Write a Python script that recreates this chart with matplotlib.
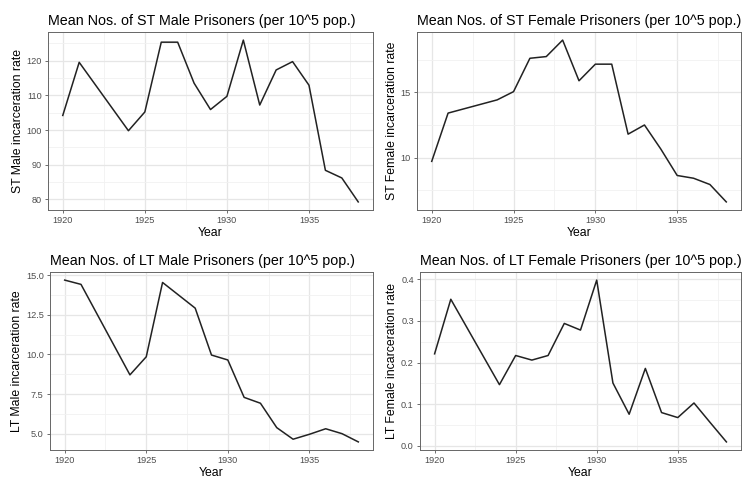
import matplotlib
matplotlib.use("Agg")
import matplotlib.pyplot as plt
from matplotlib.ticker import MultipleLocator, AutoMinorLocator

plt.rcParams['font.family'] = ['Liberation Sans', 'DejaVu Sans']

# ---------------------- data ----------------------
years = [1920, 1921, 1924, 1925, 1926, 1927, 1928, 1929, 1930, 1931,
         1932, 1933, 1934, 1935, 1936, 1937, 1938]

st_male = [104.2, 119.5, 99.8, 105.2, 125.3, 125.3, 113.5, 105.9, 109.7, 125.9,
           107.2, 117.3, 119.7, 112.9, 88.4, 86.2, 79.3]
st_female = [9.72, 13.41, 14.42, 15.05, 17.6, 17.73, 18.99, 15.88, 17.15, 17.15,
             11.8, 12.5, 10.66, 8.64, 8.43, 7.95, 6.62]
lt_male = [14.69, 14.42, 8.71, 9.85, 14.54, 13.73, 12.92, 9.96, 9.65, 7.29,
           6.92, 5.38, 4.65, 4.96, 5.31, 5.0, 4.48]
lt_female = [0.221, 0.352, 0.147, 0.217, 0.206, 0.217, 0.294, 0.278, 0.398, 0.151,
             0.076, 0.186, 0.080, 0.068, 0.103, 0.056, 0.0096]

panels = [
    ("Mean Nos. of ST Male Prisoners (per 10^5 pop.)", "ST Male incarceration rate",
     st_male, 10, "{:.0f}"),
    ("Mean Nos. of ST Female Prisoners (per 10^5 pop.)", "ST Female incarceration rate",
     st_female, 5, "{:.0f}"),
    ("Mean Nos. of LT Male Prisoners (per 10^5 pop.)", "LT Male incarceration rate",
     lt_male, 2.5, "{:.1f}"),
    ("Mean Nos. of LT Female Prisoners (per 10^5 pop.)", "LT Female incarceration rate",
     lt_female, 0.1, "{:.1f}"),
]

# panel boxes in pixels: left, top, right, bottom
W, H = 745, 480
boxes = [(48, 32, 373, 210), (417, 32, 741, 210),
         (50, 272, 373, 450), (420, 272, 741, 450)]


def draw_panel(fig, box, title, ylabel, values, step, fmt):
    l, t, r, b = box
    ax = fig.add_axes([l / W, 1 - b / H, (r - l) / W, (b - t) / H])
    ax.plot(years, values, color="#222222", linewidth=1.1, solid_joinstyle="round")

    # ggplot-style 5% expansion
    x0, x1 = min(years), max(years)
    dx = (x1 - x0) * 0.05
    ax.set_xlim(x0 - dx, x1 + dx)
    y0, y1 = min(values), max(values)
    dy = (y1 - y0) * 0.05
    ax.set_ylim(y0 - dy, y1 + dy)

    ax.xaxis.set_major_locator(MultipleLocator(5))
    ax.xaxis.set_minor_locator(AutoMinorLocator(2))
    ax.yaxis.set_major_locator(MultipleLocator(step))
    ax.yaxis.set_minor_locator(AutoMinorLocator(2))
    ax.set_yticks([v for v in ax.get_yticks() if y0 - dy <= v <= y1 + dy])
    ax.set_yticklabels([fmt.format(v) for v in ax.get_yticks()])

    ax.grid(which="major", color="#E6E6E6", linewidth=0.9)
    ax.grid(which="minor", color="#F1F1F1", linewidth=0.6)
    ax.set_axisbelow(True)

    for sp in ax.spines.values():
        sp.set_color("#666666")
        sp.set_linewidth(0.7)

    ax.tick_params(which="major", length=2.5, width=0.6, color="#555555",
                   labelsize=6.6, labelcolor="#4D4D4D", pad=2)
    ax.tick_params(which="minor", length=0)

    ax.set_title(title, fontsize=10.25, color="black", pad=5, loc="left")
    ax.set_xlabel("Year", fontsize=8.8, labelpad=1)
    ax.set_ylabel(ylabel, fontsize=8.8, labelpad=2)
    return ax


fig = plt.figure(figsize=(7.45, 4.8), dpi=100)
for box, (title, ylabel, values, step, fmt) in zip(boxes, panels):
    draw_panel(fig, box, title, ylabel, values, step, fmt)

fig.savefig("out.png", dpi=100, facecolor="white")
